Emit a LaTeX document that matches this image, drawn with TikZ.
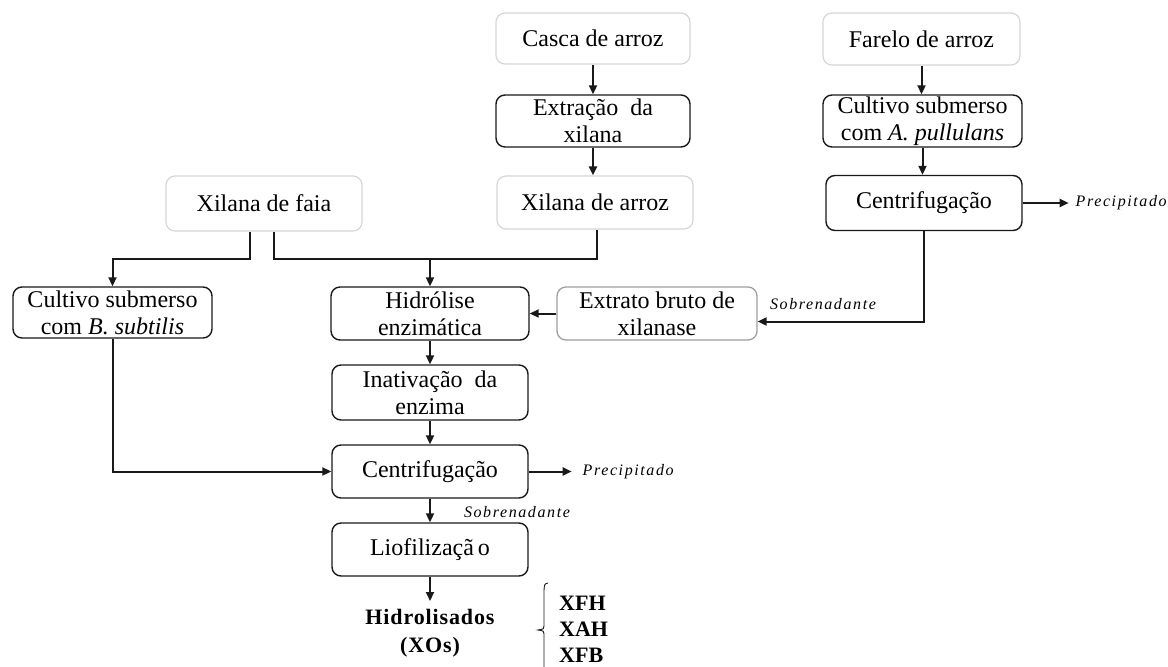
\documentclass[tikz,border=0pt]{standalone}
\usepackage{fontspec}
\setmainfont{Liberation Serif}
\usetikzlibrary{arrows.meta}
\begin{document}
\begin{tikzpicture}[x=1pt,y=-1pt,
  base/.style={rounded corners=9pt, minimum height=52pt, inner sep=0pt, align=center, font=\fontsize{24}{27}\selectfont},
  dbox/.style={base, draw=black!90, line width=1.4pt},
  lbox/.style={base, draw=black!16, line width=1.2pt},
  mbox/.style={base, draw=black!38, line width=1.3pt},
  conn/.style={draw=black!90, line width=2pt},
  arr/.style={conn, -{Triangle[length=9pt,width=8pt]}},
  lab/.style={font=\fontsize{16}{19}\selectfont\itshape\addfontfeatures{LetterSpace=10}, inner sep=0pt},
  res/.style={font=\fontsize{22}{28}\selectfont\bfseries, inner sep=0pt},
  brace/.style={draw=black!90, line width=0.9pt}]
\useasboundingbox (0,0) rectangle (1168,667);

% boxes
\node[lbox, minimum width=194pt, minimum height=51pt] (casca) at (593,38.5) {Casca de arroz};
\node[dbox, minimum width=194pt] (extr) at (593,121) {Extração\ \ da\\xilana};
\node[lbox, minimum width=196pt, minimum height=53pt] (xarroz) at (595,202.5) {Xilana de arroz};
\node[lbox, minimum width=196pt, minimum height=55pt] (xfaia) at (264,203.5) {Xilana de faia};
\node[lbox, minimum width=197pt] (farelo) at (921.5,39) {Farelo de arroz};
\node[dbox, minimum width=199pt] (cultA) at (922.5,121) {Cultivo submerso\\com \textit{A. pullulans}};
\node[dbox, minimum width=196pt, minimum height=55pt] (centR) at (924,203) {Centrifugação};
\node[dbox, minimum width=199pt, minimum height=51pt] (cultB) at (112.5,312.5) {Cultivo submerso\\com \textit{B. subtilis}};
\node[dbox, minimum width=198pt, minimum height=53pt] (hidro) at (430,313.5) {Hidrólise\\enzimática};
\node[mbox, minimum width=200pt, minimum height=53pt] (extrato) at (657,313.5) {Extrato bruto de\\xilanase};
\node[dbox, minimum width=196pt, minimum height=55pt] (inat) at (430,392.5) {Inativação\ \ da\\enzima};
\node[dbox, minimum width=196pt, minimum height=53pt] (centC) at (430,471.5) {Centrifugação};
\node[dbox, minimum width=196pt, minimum height=53pt] (liof) at (430,549.5) {Liofilizaçã\,o};
\node[res, align=center, anchor=north, inner ysep=8pt, font=\fontsize{22}{28}\selectfont\bfseries\addfontfeatures{LetterSpace=4}] (hyd) at (430,601) {Hidrolisados\\(XOs)};

% results
\node[res, anchor=base west] (xfh) at (559,610) {XFH};
\node[res, anchor=base west] (xah) at (559,636) {XAH};
\node[res, anchor=base west] (xfb) at (559,662) {XFB};
\draw[brace] (548,583) .. controls (544.5,584) .. (544,590) -- (544,626)
  .. controls (544,629) .. (538,630) .. controls (544,631) .. (544,634) -- (544,670);

% junction coordinates
\coordinate (fL) at (250,259);
\coordinate (fR) at (274,259);
\coordinate (aR) at (597,259);
\coordinate (j) at (430,259);

% connectors
\draw[arr] (casca.south) -- (extr.north);
\draw[arr] (extr.south) -- (extr.south |- xarroz.north);
\draw[arr] (farelo.south) -- (farelo.south |- cultA.north);
\draw[arr] (cultA.south) -- (cultA.south |- centR.north);
\draw[arr] (centR.east) -- ++(46,0) node[lab, anchor=west, xshift=6pt] (precR) {Precipitado};

\draw[arr] (xfaia.south -| fL) -- (fL) -| (cultB.north);
\draw[conn] (xfaia.south -| fR) -- (fR) -- (j);
\draw[conn] (xarroz.south -| aR) -- (aR) -- (j);
\draw[arr] (j) -- (hidro.north);

\draw[arr] (centR.south) |- ([yshift=-8pt]extrato.east);
\node[lab] (sobR) at (823,304) {Sobrenadante};
\draw[arr] (extrato.west) -- (hidro.east);

\draw[arr] (hidro.south) -- (inat.north);
\draw[arr] (inat.south) -- (centC.north);
\draw[arr] (cultB.south) |- (centC.west);
\draw[arr] (centC.east) -- ++(43,0) node[lab, anchor=west, xshift=10pt] (precC) {Precipitado};
\draw[arr] (centC.south) -- (liof.north);
\node[lab] (sobC) at (517,512) {Sobrenadante};
\draw[arr] (liof.south) -- (hyd.north);
\end{tikzpicture}
\end{document}
